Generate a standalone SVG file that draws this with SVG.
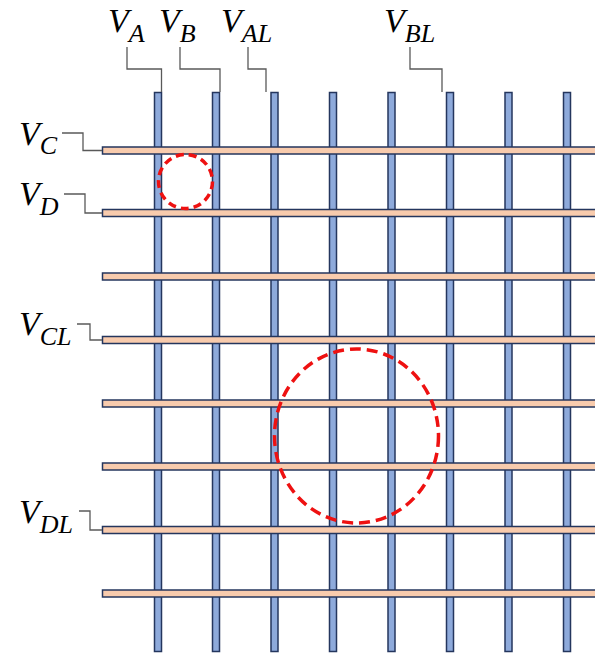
<svg xmlns="http://www.w3.org/2000/svg" width="595" height="654" viewBox="0 0 595 654">
<style>
.v{fill:#8eaadb;stroke:#24365e;stroke-width:1.5}
.h{fill:#f8cbad;stroke:#24365e;stroke-width:1.5}
.ld{fill:none;stroke:#595959;stroke-width:1.3}
.c{fill:none;stroke:#ee1111;stroke-width:3.5}
.t{font-family:"Liberation Serif","DejaVu Serif",serif;font-style:italic;fill:#000;font-size:34px}
.sub{font-size:26px}
</style>
<rect width="595" height="654" fill="#fff"/>
<g id="columns">
<rect class="v" x="154.5" y="92.5" width="7" height="559"/>
<rect class="v" x="212.5" y="92.5" width="7" height="559"/>
<rect class="v" x="271" y="92.5" width="7" height="559"/>
<rect class="v" x="329.5" y="92.5" width="7" height="559"/>
<rect class="v" x="388" y="92.5" width="7" height="559"/>
<rect class="v" x="446.5" y="92.5" width="7" height="559"/>
<rect class="v" x="505" y="92.5" width="7" height="559"/>
<rect class="v" x="563.5" y="92.5" width="7" height="559"/>
</g>
<g id="rows">
<rect class="h" x="102.5" y="147" width="500" height="7"/>
<rect class="h" x="102.5" y="209.5" width="500" height="7"/>
<rect class="h" x="102.5" y="273" width="500" height="7"/>
<rect class="h" x="102.5" y="336.5" width="500" height="7"/>
<rect class="h" x="102.5" y="400" width="500" height="7"/>
<rect class="h" x="102.5" y="463" width="500" height="7"/>
<rect class="h" x="102.5" y="526.5" width="500" height="7"/>
<rect class="h" x="102.5" y="590" width="500" height="7"/>
</g>
<g id="connectors">
<path class="ld" d="M127,47 V69 H161.5 V92"/>
<path class="ld" d="M180,47 V69 H220 V92"/>
<path class="ld" d="M248,47 V69 H266 V92"/>
<path class="ld" d="M410,47 V69 H442 V92"/>
<path class="ld" d="M62,133 H83 V150.5 H102"/>
<path class="ld" d="M64,194 H85 V213 H102"/>
<path class="ld" d="M77,324 H90 V340 H102"/>
<path class="ld" d="M79,511 H90 V530 H102"/>
</g>
<g id="regions">
<circle class="c" cx="185.5" cy="181.5" r="27" stroke-dasharray="8,5"/>
<ellipse class="c" cx="356.5" cy="436" rx="82" ry="87" stroke-dasharray="11,6"/>
</g>
<g id="label-VA"><text class="t" x="108" y="32">V<tspan class="sub" dy="10">A</tspan></text></g>
<g id="label-VB"><text class="t" x="159" y="32">V<tspan class="sub" dy="10">B</tspan></text></g>
<g id="label-VAL"><text class="t" x="221" y="32">V<tspan class="sub" dy="10">AL</tspan></text></g>
<g id="label-VBL"><text class="t" x="384" y="32">V<tspan class="sub" dy="10">BL</tspan></text></g>
<g id="label-VC"><text class="t" x="19" y="145">V<tspan class="sub" dy="9">C</tspan></text></g>
<g id="label-VD"><text class="t" x="19" y="205">V<tspan class="sub" dy="10">D</tspan></text></g>
<g id="label-VCL"><text class="t" x="19" y="335">V<tspan class="sub" dy="10">CL</tspan></text></g>
<g id="label-VDL"><text class="t" x="19" y="523">V<tspan class="sub" dy="10">DL</tspan></text></g>
</svg>
